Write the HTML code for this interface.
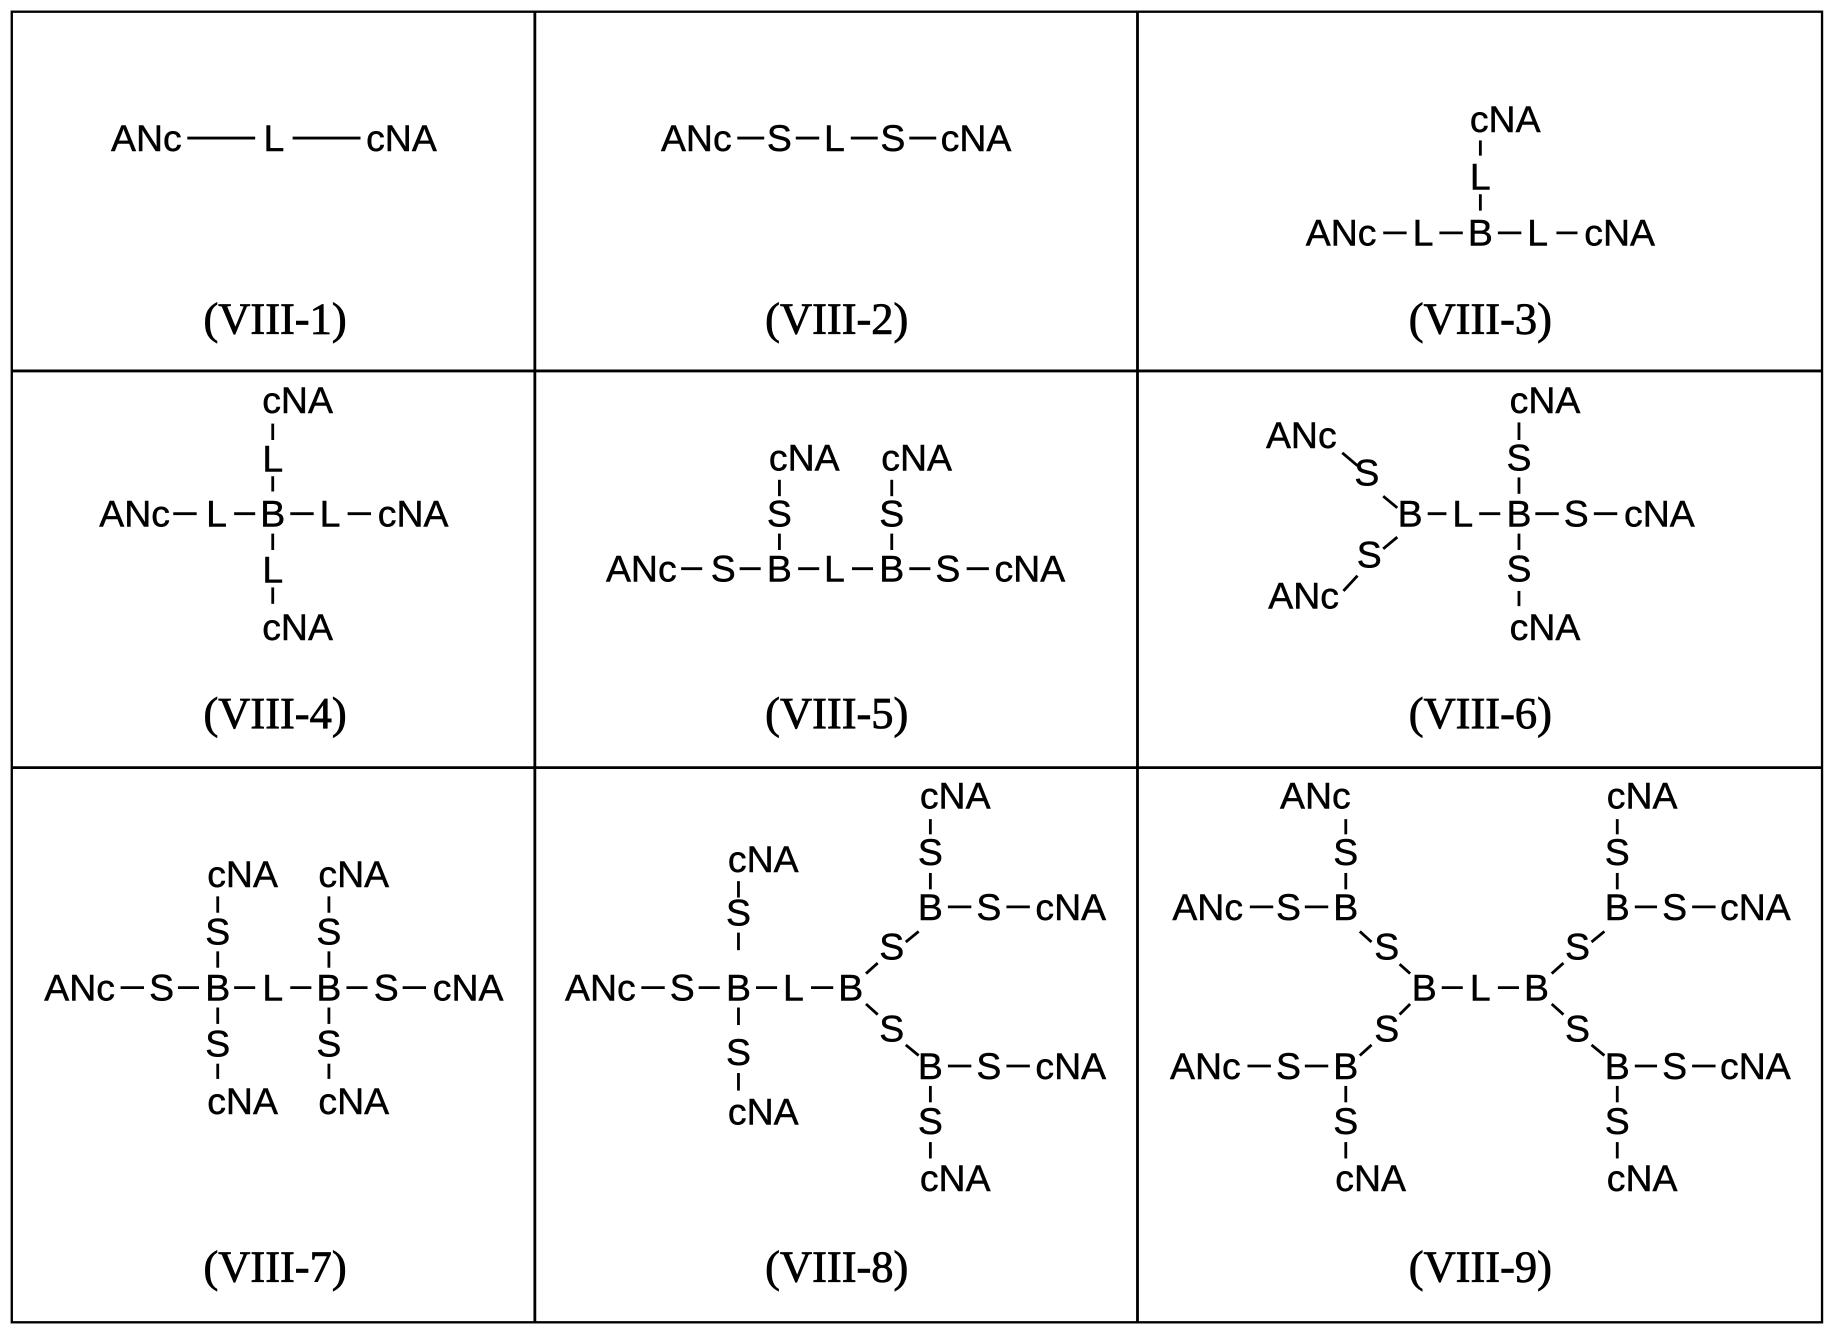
<!DOCTYPE html>
<html><head><meta charset="utf-8"><style>
html,body{margin:0;padding:0;background:#fff;}
svg{display:block}
.a{font-family:"Liberation Sans",sans-serif;font-size:32px;text-anchor:middle;fill:#000;stroke:#000;stroke-width:0.4}
.s{text-anchor:start}
.t{font-family:"Liberation Serif",serif;font-size:38px;text-anchor:middle;fill:#000;stroke:#000;stroke-width:0.7}
line{stroke:#000;stroke-width:2.4}
</style></head><body>
<svg width="1835" height="1334" viewBox="0 0 1568 1140" xmlns="http://www.w3.org/2000/svg">
<rect x="10" y="10" width="1547" height="1120" fill="none" stroke="#000" stroke-width="2"/>
<line x1="457" y1="10" x2="457" y2="1130"/>
<line x1="972" y1="10" x2="972" y2="1130"/>
<line x1="10" y1="317" x2="1557" y2="317"/>
<line x1="10" y1="656" x2="1557" y2="656"/>

<!-- labels -->
<text class="t" x="235" y="285">(VIII-1)</text>
<text class="t" x="715" y="285">(VIII-2)</text>
<text class="t" x="1265" y="285">(VIII-3)</text>
<text class="t" x="235" y="622">(VIII-4)</text>
<text class="t" x="715" y="622">(VIII-5)</text>
<text class="t" x="1265" y="622">(VIII-6)</text>
<text class="t" x="235" y="1095">(VIII-7)</text>
<text class="t" x="715" y="1095">(VIII-8)</text>
<text class="t" x="1265" y="1095">(VIII-9)</text>

<!-- VIII-1 -->
<text class="a" x="125" y="129">ANc</text><line x1="160" y1="118" x2="218" y2="118"/>
<text class="a" x="234" y="129">L</text><line x1="250" y1="118" x2="308" y2="118"/>
<text class="a" x="343" y="129">cNA</text>

<!-- VIII-2 -->
<text class="a" x="595" y="129">ANc</text><line x1="630" y1="118" x2="653" y2="118"/>
<text class="a" x="666" y="129">S</text><line x1="680" y1="118" x2="700" y2="118"/>
<text class="a" x="713" y="129">L</text><line x1="727" y1="118" x2="750" y2="118"/>
<text class="a" x="763" y="129">S</text><line x1="777" y1="118" x2="800" y2="118"/>
<text class="a" x="834" y="129">cNA</text>

<!-- VIII-3 -->
<text class="a s" x="1256" y="113">cNA</text><line x1="1265" y1="120" x2="1265" y2="133"/>
<text class="a" x="1265" y="162">L</text><line x1="1265" y1="166" x2="1265" y2="180"/>
<text class="a" x="1146" y="210">ANc</text><line x1="1182" y1="199" x2="1202" y2="199"/>
<text class="a" x="1216" y="210">L</text><line x1="1230" y1="199" x2="1250" y2="199"/>
<text class="a" x="1265" y="210">B</text><line x1="1280" y1="199" x2="1300" y2="199"/>
<text class="a" x="1314" y="210">L</text><line x1="1330" y1="199" x2="1348" y2="199"/>
<text class="a" x="1384" y="210">cNA</text>

<!-- VIII-4 -->
<text class="a s" x="224" y="353">cNA</text><line x1="233" y1="362" x2="233" y2="376"/>
<text class="a" x="233" y="403">L</text><line x1="233" y1="407" x2="233" y2="420"/>
<text class="a" x="233" y="450">B</text><line x1="233" y1="456" x2="233" y2="470"/>
<text class="a" x="233" y="498">L</text><line x1="233" y1="502" x2="233" y2="516"/>
<text class="a s" x="224" y="547">cNA</text>
<text class="a" x="115" y="450">ANc</text><line x1="148" y1="439" x2="168" y2="439"/>
<text class="a" x="185" y="450">L</text><line x1="200" y1="439" x2="218" y2="439"/>
<line x1="248" y1="439" x2="268" y2="439"/>
<text class="a" x="282" y="450">L</text><line x1="297" y1="439" x2="317" y2="439"/>
<text class="a" x="353" y="450">cNA</text>

<!-- VIII-5 -->
<text class="a" x="548" y="497">ANc</text><line x1="582" y1="486" x2="600" y2="486"/>
<text class="a" x="618" y="497">S</text><line x1="632" y1="486" x2="650" y2="486"/>
<text class="a" x="666" y="497">B</text><line x1="682" y1="486" x2="700" y2="486"/>
<text class="a" x="713" y="497">L</text><line x1="728" y1="486" x2="746" y2="486"/>
<text class="a" x="762" y="497">B</text><line x1="777" y1="486" x2="795" y2="486"/>
<text class="a" x="810" y="497">S</text><line x1="826" y1="486" x2="845" y2="486"/>
<text class="a" x="880" y="497">cNA</text>
<text class="a s" x="657" y="402">cNA</text><line x1="666" y1="410" x2="666" y2="424"/>
<text class="a" x="666" y="450">S</text><line x1="666" y1="456" x2="666" y2="470"/>
<text class="a s" x="753" y="402">cNA</text><line x1="762" y1="410" x2="762" y2="424"/>
<text class="a" x="762" y="450">S</text><line x1="762" y1="456" x2="762" y2="470"/>

<!-- VIII-6 -->
<text class="a" x="1205" y="450">B</text><line x1="1220" y1="439" x2="1236" y2="439"/>
<text class="a" x="1250" y="450">L</text><line x1="1264" y1="439" x2="1282" y2="439"/>
<text class="a" x="1298" y="450">B</text><line x1="1312" y1="439" x2="1332" y2="439"/>
<text class="a" x="1347" y="450">S</text><line x1="1362" y1="439" x2="1382" y2="439"/>
<text class="a" x="1418" y="450">cNA</text>
<text class="a s" x="1290" y="353">cNA</text><line x1="1298" y1="361" x2="1298" y2="376"/>
<text class="a" x="1298" y="402">S</text><line x1="1298" y1="408" x2="1298" y2="422"/>
<line x1="1298" y1="456" x2="1298" y2="470"/>
<text class="a" x="1298" y="497">S</text><line x1="1298" y1="505" x2="1298" y2="518"/>
<text class="a s" x="1290" y="547">cNA</text>
<text class="a" x="1112" y="383">ANc</text><line x1="1147" y1="387" x2="1160" y2="398"/>
<text class="a" x="1168" y="415">S</text><line x1="1182" y1="424" x2="1194" y2="434"/>
<line x1="1194" y1="459" x2="1182" y2="469"/>
<text class="a" x="1170" y="485">S</text><line x1="1160" y1="492" x2="1148" y2="505"/>
<text class="a" x="1114" y="520">ANc</text>

<!-- VIII-7 -->
<text class="a" x="68" y="855">ANc</text><line x1="103" y1="844" x2="123" y2="844"/>
<text class="a" x="138" y="855">S</text><line x1="152" y1="844" x2="170" y2="844"/>
<text class="a" x="186" y="855">B</text><line x1="200" y1="844" x2="218" y2="844"/>
<text class="a" x="233" y="855">L</text><line x1="248" y1="844" x2="266" y2="844"/>
<text class="a" x="281" y="855">B</text><line x1="296" y1="844" x2="314" y2="844"/>
<text class="a" x="330" y="855">S</text><line x1="344" y1="844" x2="364" y2="844"/>
<text class="a" x="400" y="855">cNA</text>
<text class="a s" x="177" y="758">cNA</text><line x1="186" y1="766" x2="186" y2="780"/>
<text class="a" x="186" y="807">S</text><line x1="186" y1="813" x2="186" y2="827"/>
<line x1="186" y1="861" x2="186" y2="875"/>
<text class="a" x="186" y="903">S</text><line x1="186" y1="909" x2="186" y2="922"/>
<text class="a s" x="177" y="952">cNA</text>
<text class="a s" x="272" y="758">cNA</text><line x1="281" y1="766" x2="281" y2="780"/>
<text class="a" x="281" y="807">S</text><line x1="281" y1="813" x2="281" y2="827"/>
<line x1="281" y1="861" x2="281" y2="875"/>
<text class="a" x="281" y="903">S</text><line x1="281" y1="909" x2="281" y2="922"/>
<text class="a s" x="272" y="952">cNA</text>

<!-- VIII-8 -->
<text class="a" x="513" y="855">ANc</text><line x1="548" y1="844" x2="568" y2="844"/>
<text class="a" x="583" y="855">S</text><line x1="597" y1="844" x2="615" y2="844"/>
<text class="a" x="631" y="855">B</text><line x1="646" y1="844" x2="664" y2="844"/>
<text class="a" x="678" y="855">L</text><line x1="693" y1="844" x2="712" y2="844"/>
<text class="a" x="727" y="855">B</text>
<text class="a s" x="622" y="745">cNA</text><line x1="631" y1="753" x2="631" y2="767"/>
<text class="a" x="631" y="791">S</text><line x1="631" y1="797" x2="631" y2="812"/>
<line x1="631" y1="861" x2="631" y2="876"/>
<text class="a" x="631" y="910">S</text><line x1="631" y1="917" x2="631" y2="932"/>
<text class="a s" x="622" y="961">cNA</text>
<line x1="740" y1="832" x2="750" y2="823"/>
<text class="a" x="762" y="820">S</text><line x1="774" y1="805" x2="785" y2="796"/>
<text class="a" x="795" y="786">B</text><line x1="810" y1="775" x2="830" y2="775"/>
<text class="a" x="845" y="786">S</text><line x1="860" y1="775" x2="880" y2="775"/>
<text class="a" x="915" y="786">cNA</text>
<text class="a s" x="786" y="691">cNA</text><line x1="795" y1="700" x2="795" y2="713"/>
<text class="a" x="795" y="739">S</text><line x1="795" y1="746" x2="795" y2="760"/>
<line x1="740" y1="858" x2="750" y2="867"/>
<text class="a" x="762" y="890">S</text><line x1="774" y1="893" x2="785" y2="902"/>
<text class="a" x="795" y="922">B</text><line x1="810" y1="911" x2="830" y2="911"/>
<text class="a" x="845" y="922">S</text><line x1="860" y1="911" x2="880" y2="911"/>
<text class="a" x="915" y="922">cNA</text>
<line x1="795" y1="928" x2="795" y2="942"/>
<text class="a" x="795" y="969">S</text><line x1="795" y1="976" x2="795" y2="990"/>
<text class="a s" x="786" y="1018">cNA</text>

<!-- VIII-9 -->
<text class="a" x="1217" y="855">B</text><line x1="1232" y1="844" x2="1250" y2="844"/>
<text class="a" x="1265" y="855">L</text><line x1="1280" y1="844" x2="1298" y2="844"/>
<text class="a" x="1313" y="855">B</text>
<line x1="1205" y1="832" x2="1196" y2="824"/>
<text class="a" x="1185" y="820">S</text><line x1="1172" y1="805" x2="1162" y2="796"/>
<text class="a" x="1150" y="786">B</text>
<text class="a" x="1032" y="786">ANc</text><line x1="1068" y1="775" x2="1088" y2="775"/>
<text class="a" x="1101" y="786">S</text><line x1="1115" y1="775" x2="1135" y2="775"/>
<text class="a" x="1124" y="691">ANc</text><line x1="1150" y1="700" x2="1150" y2="713"/>
<text class="a" x="1150" y="739">S</text><line x1="1150" y1="746" x2="1150" y2="760"/>
<line x1="1205" y1="858" x2="1196" y2="867"/>
<text class="a" x="1185" y="890">S</text><line x1="1172" y1="893" x2="1162" y2="902"/>
<text class="a" x="1150" y="922">B</text>
<text class="a" x="1030" y="922">ANc</text><line x1="1066" y1="911" x2="1086" y2="911"/>
<text class="a" x="1101" y="922">S</text><line x1="1115" y1="911" x2="1135" y2="911"/>
<line x1="1150" y1="928" x2="1150" y2="942"/>
<text class="a" x="1150" y="969">S</text><line x1="1150" y1="976" x2="1150" y2="990"/>
<text class="a s" x="1141" y="1018">cNA</text>
<line x1="1326" y1="832" x2="1336" y2="823"/>
<text class="a" x="1348" y="820">S</text><line x1="1360" y1="805" x2="1371" y2="796"/>
<text class="a" x="1382" y="786">B</text><line x1="1397" y1="775" x2="1416" y2="775"/>
<text class="a" x="1431" y="786">S</text><line x1="1446" y1="775" x2="1466" y2="775"/>
<text class="a" x="1500" y="786">cNA</text>
<text class="a s" x="1373" y="691">cNA</text><line x1="1382" y1="700" x2="1382" y2="713"/>
<text class="a" x="1382" y="739">S</text><line x1="1382" y1="746" x2="1382" y2="760"/>
<line x1="1326" y1="858" x2="1336" y2="867"/>
<text class="a" x="1348" y="890">S</text><line x1="1360" y1="893" x2="1371" y2="902"/>
<text class="a" x="1382" y="922">B</text><line x1="1397" y1="911" x2="1416" y2="911"/>
<text class="a" x="1431" y="922">S</text><line x1="1446" y1="911" x2="1466" y2="911"/>
<text class="a" x="1500" y="922">cNA</text>
<line x1="1382" y1="928" x2="1382" y2="942"/>
<text class="a" x="1382" y="969">S</text><line x1="1382" y1="976" x2="1382" y2="990"/>
<text class="a s" x="1373" y="1018">cNA</text>
</svg>
</body></html>
